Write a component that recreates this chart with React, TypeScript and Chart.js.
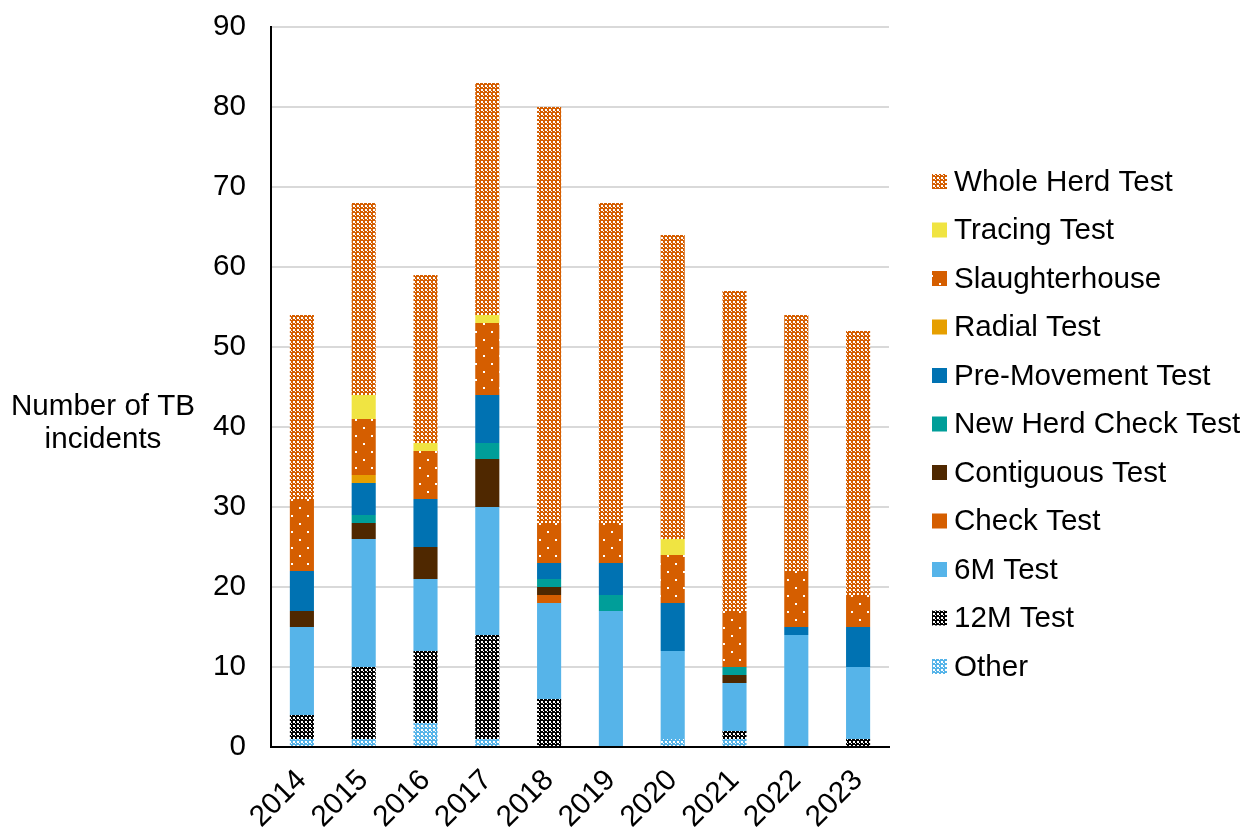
import React, { useEffect, useRef } from 'react';
import { Chart, registerables } from 'chart.js';

Chart.register(...registerables);

// ---------- data ----------
const years = ['2014', '2015', '2016', '2017', '2018', '2019', '2020', '2021', '2022', '2023'];
const other = [1, 1, 3, 1, 0, 0, 1, 1, 0, 0];
const test12M = [3, 9, 9, 13, 6, 0, 0, 1, 0, 1];
const test6M = [11, 16, 9, 16, 12, 17, 11, 6, 14, 9];
const checkTest = [0, 0, 0, 0, 1, 0, 0, 0, 0, 0];
const contiguousTest = [2, 2, 4, 6, 1, 0, 0, 1, 0, 0];
const newHerdCheckTest = [0, 1, 0, 2, 1, 2, 0, 1, 0, 0];
const preMovementTest = [5, 4, 6, 6, 2, 4, 6, 0, 1, 5];
const radialTest = [0, 1, 0, 0, 0, 0, 0, 0, 0, 0];
const slaughterhouse = [9, 7, 6, 9, 5, 5, 6, 7, 7, 4];
const tracingTest = [0, 3, 1, 1, 0, 0, 2, 0, 0, 0];
const wholeHerdTest = [23, 24, 21, 29, 52, 40, 38, 40, 32, 33];
const yTicks = [0, 10, 20, 30, 40, 50, 60, 70, 80, 90];
const yTitle = ['Number of TB', 'incidents'];

const FONT = '"Liberation Sans", Arial, Helvetica, sans-serif';
const FONT_SIZE = 29.6;

function makePattern(bg: string, fg: string, size: number, cells: number[][]): CanvasPattern | string {
  const c = document.createElement('canvas');
  c.width = size;
  c.height = size;
  const x = c.getContext('2d');
  if (!x) return bg;
  x.fillStyle = bg;
  x.fillRect(0, 0, size, size);
  x.fillStyle = fg;
  cells.forEach(([cx, cy, w, h]) => x.fillRect(cx, cy, w, h));
  const p = x.createPattern(c, 'repeat');
  return p || bg;
}

// white squares on a coloured cross grid, with a small white dot in each cross
const checkCells = [[1, 1, 2, 2], [3, 3, 1, 1]];

const sidePlugin = {
  id: 'sideTexts',
  afterDraw(chart: any) {
    const { ctx, chartArea } = chart;
    ctx.save();
    ctx.font = `${FONT_SIZE}px ${FONT}`;
    ctx.fillStyle = '#000';
    ctx.textAlign = 'center';
    ctx.textBaseline = 'middle';
    const midY = (chartArea.top + chartArea.bottom) / 2;
    yTitle.forEach((line, i) => {
      ctx.fillText(line, 103, midY + 20 + i * 33);
    });
    const ds = chart.data.datasets;
    const lx = chartArea.right + 43;
    const top = 181;
    const step = 48.5;
    ctx.textAlign = 'left';
    for (let k = 0; k < ds.length; k++) {
      const d = ds[ds.length - 1 - k];
      const cy = top + k * step;
      ctx.fillStyle = d.backgroundColor;
      ctx.fillRect(lx, cy - 7, 15, 15);
      ctx.fillStyle = '#000';
      ctx.fillText(d.label, lx + 22, cy + 1.5);
    }
    ctx.restore();
  },
};

export default function App() {
  const ref = useRef<HTMLCanvasElement | null>(null);

  useEffect(() => {
    if (!ref.current) return;
    const orange = '#D55E00';
    const wholePat = makePattern(orange, '#FFFFFF', 4, checkCells);
    const slaughterPat = makePattern(orange, '#FFFFFF', 16, [[3, 3, 2, 2], [11, 11, 2, 2]]);
    const m12Pat = makePattern('#000000', '#FFFFFF', 4, checkCells);
    const otherPat = makePattern('#56B4E9', '#FFFFFF', 4, checkCells);

    const mk = (label: string, data: number[], bg: any) => ({
      label,
      data,
      backgroundColor: bg,
      borderWidth: 0,
      barPercentage: 0.39,
      categoryPercentage: 1,
      stack: 's',
    });

    const chart = new Chart(ref.current, {
      type: 'bar',
      data: {
        labels: years,
        datasets: [
          mk('Other', other, otherPat),
          mk('12M Test', test12M, m12Pat),
          mk('6M Test', test6M, '#56B4E9'),
          mk('Check Test', checkTest, orange),
          mk('Contiguous Test', contiguousTest, '#4F2800'),
          mk('New Herd Check Test', newHerdCheckTest, '#009E99'),
          mk('Pre-Movement Test', preMovementTest, '#0072B2'),
          mk('Radial Test', radialTest, '#E69F00'),
          mk('Slaughterhouse', slaughterhouse, slaughterPat),
          mk('Tracing Test', tracingTest, '#F0E442'),
          mk('Whole Herd Test', wholeHerdTest, wholePat),
        ],
      },
      options: {
        responsive: false,
        animation: false,
        devicePixelRatio: 1,
        layout: { padding: { left: 0, top: 27, right: 355, bottom: 0 } },
        plugins: {
          legend: { display: false },
          tooltip: { enabled: false },
          title: { display: false },
        },
        scales: {
          x: {
            stacked: true,
            grid: { display: false, drawTicks: false },
            border: { display: true, color: '#000', width: 2 },
            ticks: {
              color: '#000',
              font: { family: FONT, size: FONT_SIZE },
              minRotation: 45,
              maxRotation: 45,
              padding: 16,
            },
            afterFit: (s: any) => { s.height = 80; },
          },
          y: {
            stacked: true,
            min: yTicks[0],
            max: yTicks[yTicks.length - 1],
            afterBuildTicks: (s: any) => { s.ticks = yTicks.map((v) => ({ value: v })); },
            grid: { color: '#D9D9D9', lineWidth: 2, drawTicks: false },
            border: { display: true, color: '#000', width: 2 },
            ticks: {
              color: '#000',
              font: { family: FONT, size: FONT_SIZE },
              padding: 25,
            },
            afterFit: (s: any) => { s.width = 271; s.paddingTop = 0; s.paddingBottom = 0; },
          },
        },
      },
      plugins: [sidePlugin],
    });
    return () => chart.destroy();
  }, []);

  return (
    <div style={{ position: 'absolute', left: 0, top: 0, width: 1244, height: 827, background: '#fff' }}>
      <canvas ref={ref} width={1244} height={827} style={{ display: 'block' }} />
    </div>
  );
}
